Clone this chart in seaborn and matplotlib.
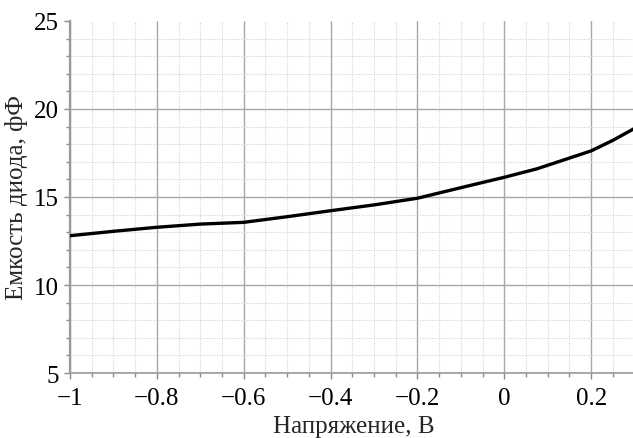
import matplotlib
matplotlib.use("Agg")
import matplotlib.pyplot as plt
from matplotlib.ticker import MultipleLocator, FixedLocator, FixedFormatter
import seaborn as sns
import pandas as pd

# Diode capacitance versus applied voltage
voltage = [-1.0, -0.9, -0.8, -0.7, -0.6, -0.5, -0.4, -0.3, -0.2, -0.1,
           0.0, 0.075, 0.2, 0.25, 0.3]
capacitance = [12.80, 13.05, 13.28, 13.46, 13.56, 13.88, 14.22, 14.55, 14.93,
               15.53, 16.12, 16.60, 17.62, 18.22, 18.90]

x_ticks = [-1.0, -0.8, -0.6, -0.4, -0.2, 0.0, 0.2]
x_tick_labels = ["\u22121", "\u22120.8", "\u22120.6", "\u22120.4", "\u22120.2", "0", "0.2"]
y_ticks = [5, 10, 15, 20, 25]
y_tick_labels = ["5", "10", "15", "20", "25"]

x_label = "Напряжение, В"
y_label = "Емкость диода, фФ"

sns.set_style("white")
plt.rcParams["font.family"] = ["Liberation Serif", "DejaVu Serif"]

df = pd.DataFrame({"U": voltage, "C": capacitance})

fig = plt.figure(figsize=(6.33, 4.39), dpi=100)
ax = fig.add_axes([0.1106, 0.148, 0.892, 0.802])

ax.set_xlim(-1.0, 0.3)
ax.set_ylim(5, 25)

ax.xaxis.set_major_locator(FixedLocator(x_ticks))
ax.xaxis.set_major_formatter(FixedFormatter(x_tick_labels))
ax.yaxis.set_major_locator(FixedLocator(y_ticks))
ax.yaxis.set_major_formatter(FixedFormatter(y_tick_labels))
ax.xaxis.set_minor_locator(MultipleLocator(0.05))
ax.yaxis.set_minor_locator(MultipleLocator(1))

ax.grid(which="major", color="#a8a8a8", linewidth=1.0, linestyle="-")
ax.grid(which="minor", color="#d4d4d4", linewidth=0.8, linestyle=(0, (1, 1.2)))
ax.set_axisbelow(True)

sns.lineplot(data=df, x="U", y="C", ax=ax, color="black", linewidth=2.4,
             zorder=5)

# remove the gridline that would run along the top edge
for gl in ax.get_ygridlines():
    if abs(gl.get_ydata()[0] - 25) < 1e-9:
        gl.set_visible(False)

for side in ("top", "right"):
    ax.spines[side].set_visible(False)
ax.spines["left"].set_color("#9a9a9a")
ax.spines["left"].set_linewidth(1.6)
ax.spines["bottom"].set_color("#9a9a9a")
ax.spines["bottom"].set_linewidth(1.2)

ax.tick_params(which="both", direction="out", color="#8a8a8a", width=1.0,
               labelsize=18, labelcolor="black", bottom=True, left=True)
ax.tick_params(which="major", length=4)
ax.tick_params(axis="x", which="major", pad=6)
ax.tick_params(axis="y", which="major", pad=4)
ax.tick_params(which="minor", length=3)

ax.set_xlabel(x_label, fontsize=18)
ax.set_ylabel(y_label, fontsize=18, labelpad=4)
ax.xaxis.set_label_coords(283.0 / 564.0, -0.118)

fig.savefig("out.png", dpi=100)
